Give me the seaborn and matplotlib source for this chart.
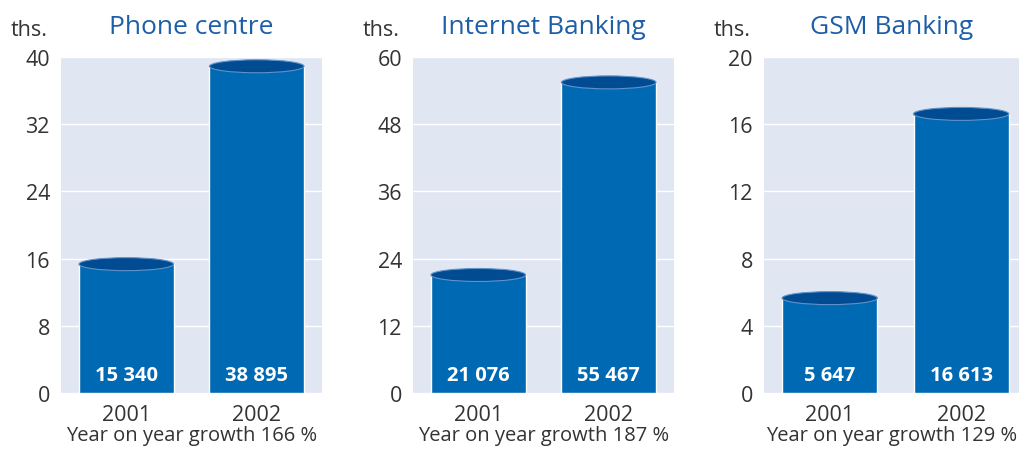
import matplotlib
matplotlib.use("Agg")
import matplotlib.pyplot as plt
from matplotlib.patches import Ellipse
import seaborn as sns

# данные с картинки (в тысячах)
years = ["2001", "2002"]
titles = ["Phone centre", "Internet Banking", "GSM Banking"]
phone = [15.340, 38.895]
internet = [21.076, 55.467]
gsm = [5.647, 16.613]
growth = [166, 187, 129]
y_max = [40, 60, 20]
y_step = [8, 12, 4]

series = [phone, internet, gsm]

bar_col = "#0069b4"
top_col = "#004b91"
bg_col = "#e1e6f3"
txt_col = "#333333"
title_col = "#1d5ea8"

sns.set_style("white")
plt.rcParams["font.family"] = ["Open Sans", "DejaVu Sans"]

W, H = 1019, 452
fig = plt.figure(figsize=(W / 100, H / 100), dpi=100)

# положение осей в пикселях: left, right, xlim right
boxes = [(61, 322, 1.5), (413, 674, 1.5), (764, 1019, 1.44)]
top_px, bot_px = 58, 394

for i in range(3):
    l, r, xr = boxes[i]
    ax = fig.add_axes([l / W, (H - bot_px) / H, (r - l) / W, (bot_px - top_px) / H])
    ax.set_facecolor(bg_col)
    vals = series[i]
    sns.barplot(x=years, y=vals, ax=ax, color=bar_col, saturation=1, width=0.725, zorder=2)
    ax.set_xlim(-0.5, xr)
    ax.set_ylim(0, y_max[i])
    ax.set_yticks(range(0, y_max[i] + 1, y_step[i]))
    ax.set_axisbelow(True)
    ax.grid(axis="y", color="white", lw=1.0)
    for s in ax.spines.values():
        s.set_visible(False)
    ax.tick_params(length=0, labelsize=15.5, colors=txt_col)
    ax.tick_params(axis="y", pad=8)
    ax.tick_params(axis="x", pad=8)

    # высота эллипса ~13 px в единицах данных
    ell_h = 13 * y_max[i] / (bot_px - top_px)
    for p, v in zip(ax.patches, vals):
        cx = p.get_x() + p.get_width() / 2
        ax.add_patch(Ellipse((cx, p.get_height()), p.get_width(), ell_h,
                             facecolor=top_col, edgecolor="#5f93c9", lw=0.8, zorder=3))
        lab = f"{int(round(v * 1000)):,}".replace(",", " ")
        ax.annotate(lab, xy=(cx, 0), xycoords=("data", "axes fraction"),
                    xytext=(0, 18), textcoords="offset pixels",
                    ha="center", va="center", color="white",
                    fontsize=14.5, fontweight="bold", zorder=4)

    ax.set_title(titles[i], fontsize=19, color=title_col, pad=17)
    ax.annotate("ths.", xy=(0, 1), xycoords="axes fraction",
                xytext=(-13, 28), textcoords="offset pixels",
                ha="right", va="center", fontsize=15.5, color=txt_col)
    ax.set_xlabel(f"Year on year growth {growth[i]} %", fontsize=14.5,
                  color=txt_col, labelpad=0)
    ax.set_ylabel("")

fig.savefig("out.png", dpi=100)
